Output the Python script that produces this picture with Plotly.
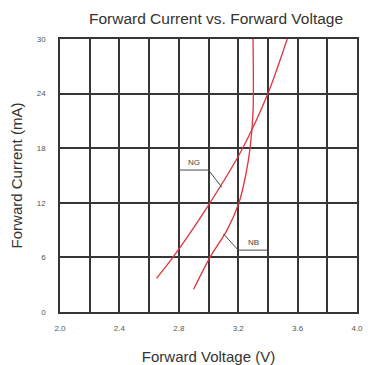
import plotly.graph_objects as go

# Data
ng_voltage = [2.65, 2.76, 3.01, 3.23, 3.40, 3.53]
ng_current = [3.7, 6.0, 12.0, 18.0, 24.0, 30.0]

nb_voltage = [2.90, 3.01, 3.125, 3.205, 3.25, 3.28, 3.30, 3.30]
nb_current = [2.5, 6.0, 9.0, 12.0, 15.0, 18.0, 22.0, 30.0]

x_ticks = [2.0, 2.4, 2.8, 3.2, 3.6, 4.0]
y_ticks = [0, 6, 12, 18, 24, 30]

grid_color = "#363636"
red = "#e2323f"
text_color = "#444444"
font_family = "Liberation Sans, Arial, sans-serif"

# page body has an 8px default margin, so the figure is slightly smaller
W, H = 369, 357

fig = go.Figure()
fig.add_trace(go.Scatter(x=ng_voltage, y=ng_current, mode="lines", name="NG",
                         line=dict(color=red, width=1.3, shape="spline", smoothing=0.8)))
fig.add_trace(go.Scatter(x=nb_voltage, y=nb_current, mode="lines", name="NB",
                         line=dict(color=red, width=1.3, shape="spline", smoothing=0.8)))

# label callouts
line_style = dict(color="#4a4a4a", width=1)
fig.add_shape(type="line", x0=2.8, y0=15.6, x1=3.0, y1=15.6, xref="x", yref="y", line=line_style)
fig.add_shape(type="line", x0=3.0, y0=15.6, x1=3.09, y1=13.7, xref="x", yref="y", line=line_style)
fig.add_shape(type="line", x0=3.2, y0=6.8, x1=3.4, y1=6.8, xref="x", yref="y", line=line_style)
fig.add_shape(type="line", x0=3.2, y0=6.8, x1=3.10, y1=8.6, xref="x", yref="y", line=line_style)

fig.add_annotation(x=2.9, y=15.6, text="NG", showarrow=False, yanchor="bottom", yshift=1,
                   font=dict(size=8, color=text_color, family=font_family), bgcolor="white")
fig.add_annotation(x=3.3, y=6.8, text="NB", showarrow=False, yanchor="bottom", yshift=1,
                   font=dict(size=8, color=text_color, family=font_family), bgcolor="white")

fig.update_layout(
    width=W, height=H,
    margin=dict(l=52, r=20, t=31, b=53),
    paper_bgcolor="white", plot_bgcolor="white",
    showlegend=False,
    font=dict(family=font_family, color=text_color),
    title=dict(text="Forward Current vs. Forward Voltage", xref="container", x=208 / W,
               xanchor="center", yref="container", y=1 - 11 / H, yanchor="middle",
               font=dict(size=15.5, color="#333333")),
)
fig.update_xaxes(
    range=[2, 4], tickvals=x_ticks, ticktext=[f"{v:.1f}" for v in x_ticks],
    showgrid=True, gridcolor=grid_color, gridwidth=1.5,
    minor=dict(dtick=0.2, showgrid=True, gridcolor=grid_color, gridwidth=1.5),
    showline=True, linecolor=grid_color, linewidth=1.5, mirror=True,
    zeroline=False, ticks="", ticklabelstandoff=8, automargin=False,
    tickfont=dict(size=8, color="#555555"),
    title=dict(text="Forward Voltage (V)", font=dict(size=15, color="#333333"), standoff=19),
)
fig.update_yaxes(
    range=[0, 30], tickvals=y_ticks,
    showgrid=True, gridcolor=grid_color, gridwidth=1.5,
    showline=True, linecolor=grid_color, linewidth=1.5, mirror=True,
    zeroline=False, ticks="", ticklabelstandoff=11, automargin=False,
    tickfont=dict(size=8, color="#555555"),
    title=dict(text="Forward Current (mA)", font=dict(size=15, color="#333333"), standoff=12),
)

fig.write_html("out.html")
